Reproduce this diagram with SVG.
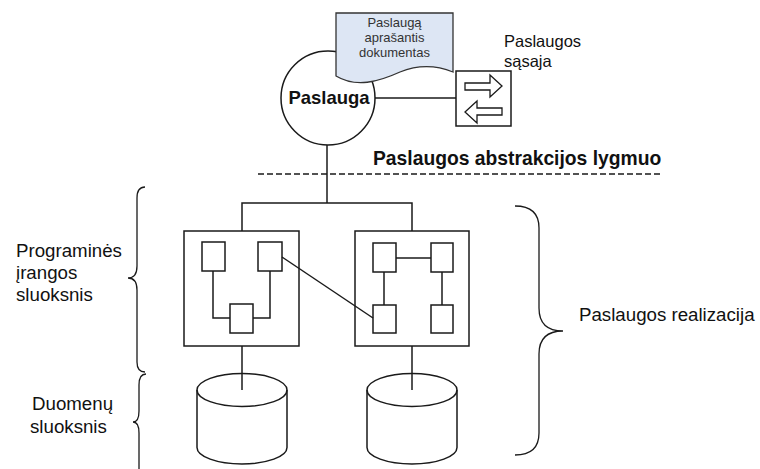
<svg xmlns="http://www.w3.org/2000/svg" width="760" height="469" viewBox="0 0 760 469">
  <style>
    .ln { fill: none; stroke: #1a1a1a; stroke-width: 1.5; }
    .box { fill: #ffffff; stroke: #1a1a1a; stroke-width: 1.5; }
    .brace { fill: none; stroke: #1a1a1a; stroke-width: 1.3; }
    .txt { font-family: "Liberation Sans", Arial, sans-serif; fill: #111111; }
    .lbl { font-size: 18.7px; }
    .bold { font-weight: bold; }
    .doc { font-size: 13px; fill: #333333; text-anchor: middle; }
  </style>

  <rect width="760" height="469" fill="#ffffff"/>

  <!-- abstraction boundary -->
  <line id="boundary" x1="258" y1="174" x2="663" y2="174" stroke="#1a1a1a" stroke-width="1.3" stroke-dasharray="6,3"/>

  <!-- service -->
  <g id="service">
    <circle class="box" cx="328" cy="98" r="47"/>
    <text class="txt bold" x="329" y="104" font-size="18.5" text-anchor="middle">Paslauga</text>
  </g>

  <!-- service description document -->
  <g id="document">
    <path d="M336,13 H453 V72 C438,66 420,64 400,72 C378,82 356,88 336,76 Z" fill="#dde6f4" stroke="#333333" stroke-width="1.3"/>
    <text class="txt doc" x="394.5" y="27">Paslaugą</text>
    <text class="txt doc" x="394.5" y="42">aprašantis</text>
    <text class="txt doc" x="394.5" y="57">dokumentas</text>
  </g>

  <!-- service interface -->
  <g id="interface">
    <rect class="box" x="456" y="71" width="55" height="55"/>
    <path d="M465,83 H490 V75 L502,86 L490,97 V90 H465 Z" fill="#ffffff" stroke="#1a1a1a" stroke-width="1.3"/>
    <path d="M502,108 H477 V101 L465,112 L477,123 V115 H502 Z" fill="#ffffff" stroke="#1a1a1a" stroke-width="1.3"/>
    <text class="txt" x="504" y="47" font-size="16.5">Paslaugos</text>
    <text class="txt" x="504" y="67" font-size="16.5">sąsaja</text>
  </g>

  <text id="abstraction-label" class="txt bold" x="373" y="165" font-size="19.3">Paslaugos abstrakcijos lygmuo</text>

  <!-- left software component -->
  <g id="component-left">
    <rect class="box" x="184" y="231" width="115" height="115"/>
    <rect class="box" x="202" y="242" width="23" height="29"/>
    <rect class="box" x="258" y="242" width="24" height="29"/>
    <rect class="box" x="230" y="304" width="23" height="29"/>
  </g>

  <!-- right software component -->
  <g id="component-right">
    <rect class="box" x="355" y="231" width="114" height="115"/>
    <rect class="box" x="373" y="243" width="23" height="29"/>
    <rect class="box" x="431" y="243" width="22" height="29"/>
    <rect class="box" x="373" y="305" width="23" height="28"/>
    <rect class="box" x="431" y="305" width="22" height="28"/>
  </g>

  <!-- databases -->
  <g id="db-left" class="ln">
    <path d="M197,390 V447.5 A45,16.5 0 0 0 287,447.5 V390"/>
    <ellipse cx="242" cy="390" rx="45" ry="16.5"/>
  </g>
  <g id="db-right" class="ln">
    <path d="M367,390 V447.5 A45,16.5 0 0 0 457,447.5 V390"/>
    <ellipse cx="412" cy="390" rx="45" ry="16.5"/>
  </g>

  <!-- connectors, drawn over the node fills -->
  <g id="connectors" class="ln">
    <!-- service to interface -->
    <line x1="375" y1="98" x2="456" y2="98"/>
    <!-- service down to component tree -->
    <line x1="327" y1="145" x2="327" y2="203"/>
    <polyline points="242,231 242,203 412,203 412,231"/>
    <!-- components to databases -->
    <line x1="242" y1="346" x2="242" y2="390"/>
    <line x1="412" y1="346" x2="412" y2="390"/>
    <!-- inside left component -->
    <polyline points="213,271 213,318 230,318"/>
    <polyline points="270,271 270,318 253,318"/>
    <!-- cross-component link -->
    <line x1="282" y1="257" x2="373" y2="318"/>
    <!-- inside right component -->
    <line x1="396" y1="258" x2="431" y2="258"/>
    <line x1="384" y1="272" x2="384" y2="305"/>
    <line x1="442" y1="272" x2="442" y2="305"/>
  </g>

  <!-- layer braces -->
  <g id="brace-software">
    <path class="brace" d="M145,187 Q137,187 137,198 L137,266 Q137,278 128,278 Q137,278 137,290 L137,362 Q137,372 145,372"/>
  </g>
  <g id="brace-data">
    <path class="brace" d="M146,374 Q139,374 139,385 L139,411 Q139,422 133,422 Q139,422 139,433 L139,469"/>
  </g>
  <g id="brace-realization">
    <path class="brace" d="M515,206 Q539,206 539,228 L539,308 Q539,331 563,331 Q539,331 539,354 L539,433 Q539,455 515,455"/>
  </g>

  <!-- layer labels -->
  <g id="label-software" class="txt lbl">
    <text x="16" y="257">Programinės</text>
    <text x="16" y="279">įrangos</text>
    <text x="16" y="301">sluoksnis</text>
  </g>
  <g id="label-data" class="txt lbl">
    <text x="32" y="410">Duomenų</text>
    <text x="30" y="433">sluoksnis</text>
  </g>
  <text id="label-realization" class="txt lbl" x="579" y="321">Paslaugos realizacija</text>
</svg>
